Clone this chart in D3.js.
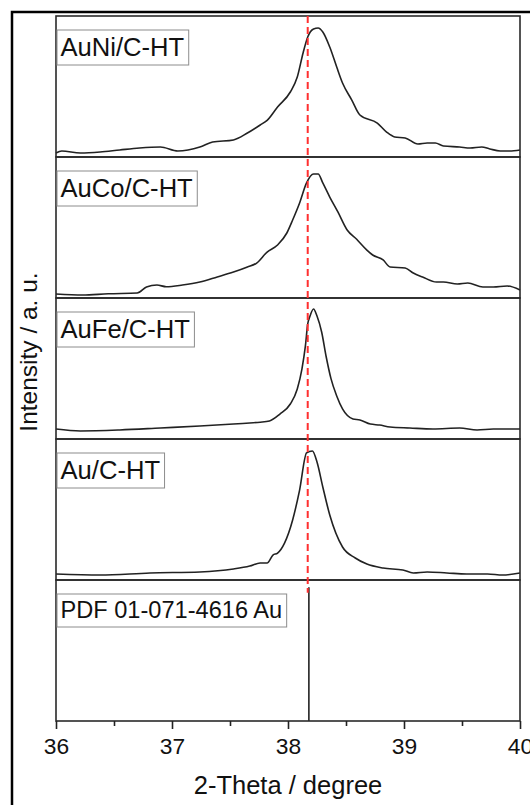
<!DOCTYPE html>
<html>
<head>
<meta charset="utf-8">
<script src="https://cdn.jsdelivr.net/npm/d3@7/dist/d3.min.js"></script>
<style>
  html, body { margin: 0; padding: 0; background: #fff; }
  svg { display: block; }
  text { font-family: "Liberation Sans", Arial, sans-serif; fill: #111; }
</style>
</head>
<body>
<svg id="chart" width="530" height="805"></svg>
<script>
// XRD patterns around the Au(111) reflection, normalized intensity (a.u.)
const auNi = [
  [36.00, 2.8], [36.05, 4.3], [36.21, 2.8], [36.38, 3.5], [36.55, 5.0], [36.72, 6.4],
  [36.90, 7.1], [37.05, 4.3], [37.24, 7.1], [37.35, 10.6], [37.53, 12.1], [37.65, 17.0],
  [37.76, 22.7], [37.82, 26.0], [37.91, 35.5], [38.02, 46.1], [38.08, 56.7], [38.13, 73.8],
  [38.17, 85.1], [38.22, 90.8], [38.26, 91.5], [38.30, 88.7], [38.36, 78.0], [38.42, 63.8],
  [38.47, 52.5], [38.55, 40.4], [38.62, 29.8], [38.77, 24.1], [38.85, 17.7], [38.92, 14.2],
  [39.01, 13.5], [39.12, 9.2], [39.20, 9.9], [39.27, 9.9], [39.34, 7.8], [39.48, 7.1],
  [39.57, 6.4], [39.67, 7.1], [39.74, 5.7], [39.83, 4.3], [39.91, 4.3], [40.00, 5.0]
];
const auCo = [
  [36.00, 2.8], [36.23, 2.1], [36.45, 3.0], [36.70, 3.5], [36.78, 7.8], [36.87, 9.2],
  [36.95, 8.0], [37.09, 9.2], [37.24, 11.3], [37.39, 14.9], [37.53, 18.4], [37.65, 22.0],
  [37.73, 24.8], [37.82, 32.6], [37.91, 37.6], [37.99, 46.1], [38.04, 55.3], [38.10, 67.4],
  [38.16, 81.6], [38.22, 87.9], [38.26, 87.9], [38.30, 81.6], [38.36, 71.6], [38.43, 61.0],
  [38.51, 48.2], [38.59, 41.8], [38.68, 34.0], [38.73, 30.5], [38.82, 27.0], [38.88, 22.0],
  [39.01, 21.3], [39.08, 17.7], [39.16, 14.9], [39.28, 11.3], [39.34, 11.3], [39.46, 9.9],
  [39.55, 10.6], [39.68, 7.8], [39.77, 7.8], [39.89, 8.5], [40.00, 5.7]
];
const auFe = [
  [36.00, 7.1], [36.21, 5.7], [36.55, 6.4], [36.90, 7.8], [37.24, 9.2], [37.53, 10.6],
  [37.67, 11.4], [37.76, 11.9], [37.84, 12.8], [37.93, 17.7], [38.02, 24.8], [38.08, 35.5],
  [38.12, 49.6], [38.15, 66.0], [38.17, 81.6], [38.19, 87.2], [38.22, 92.2], [38.25, 87.2],
  [38.29, 75.9], [38.33, 58.0], [38.37, 43.0], [38.42, 30.5], [38.47, 21.3], [38.56, 14.2],
  [38.62, 13.5], [38.71, 10.6], [38.79, 9.9], [38.88, 8.5], [39.05, 7.8], [39.25, 7.1],
  [39.48, 7.8], [39.63, 6.4], [39.77, 7.1], [40.00, 7.1]
];
const auC = [
  [36.00, 4.3], [36.38, 3.5], [36.81, 5.0], [37.24, 5.7], [37.53, 7.8], [37.67, 9.9],
  [37.76, 12.1], [37.82, 12.1], [37.87, 17.7], [37.91, 19.1], [37.97, 26.2], [38.04, 42.6],
  [38.10, 63.8], [38.16, 90.1], [38.21, 91.5], [38.25, 83.7], [38.30, 66.0], [38.36, 46.1],
  [38.47, 23.4], [38.58, 15.6], [38.68, 11.3], [38.82, 8.5], [38.99, 7.1], [39.08, 5.0],
  [39.20, 5.7], [39.37, 5.0], [39.54, 4.3], [39.72, 4.3], [39.85, 3.5], [40.00, 5.0]
];
// reference pattern PDF 01-071-4616 (Au), relative intensity
const pdfAu = [[38.18, 100]];
const refLine = 38.17;

const sampleNames = ["AuNi/C-HT", "AuCo/C-HT", "AuFe/C-HT", "Au/C-HT", "PDF 01-071-4616 Au"];
const xTicks = [36, 37, 38, 39, 40];
const xTitle = "2-Theta / degree";
const yTitle = "Intensity / a. u.";

const panels = [
  { name: sampleNames[0], data: auNi, type: "line", max: 100 },
  { name: sampleNames[1], data: auCo, type: "line", max: 100 },
  { name: sampleNames[2], data: auFe, type: "line", max: 100 },
  { name: sampleNames[3], data: auC,  type: "line", max: 100 },
  { name: sampleNames[4], data: pdfAu, type: "stick", max: 105.5 }
];

const svg = d3.select("#chart");
const plot = { left: 56, right: 520, top: 16, bottom: 721 };

// outer frame
svg.append("rect")
  .attr("x", 12).attr("y", 12).attr("width", 540).attr("height", 820)
  .attr("fill", "none").attr("stroke", "#000").attr("stroke-width", 2.5);

const x = d3.scaleLinear().domain([36, 40]).range([plot.left, plot.right]);
const band = d3.scaleBand().domain(d3.range(panels.length)).range([plot.top, plot.bottom]).padding(0);

const line = d3.line().x(d => x(d[0])).y(d => d.y).curve(d3.curveMonotoneX);

let yPdf = null;
panels.forEach((p, i) => {
  const top = band(i), h = band.bandwidth();
  const y = d3.scaleLinear().domain([0, p.max]).range([top + h, top]);
  const g = svg.append("g");
  if (p.type === "line") {
    g.append("path")
      .attr("d", line(p.data.map(d => Object.assign([d[0], d[1]], { y: y(d[1]) }))))
      .attr("fill", "none").attr("stroke", "#222").attr("stroke-width", 1.6)
      .attr("stroke-linejoin", "round");
  } else {
    yPdf = y;
    g.selectAll("line.stick").data(p.data).join("line")
      .attr("class", "stick")
      .attr("x1", d => x(d[0])).attr("x2", d => x(d[0]))
      .attr("y1", y(0)).attr("y2", d => y(d[1]))
      .attr("stroke", "#222").attr("stroke-width", 1.6);
  }
  // panel frame
  g.append("rect")
    .attr("x", plot.left).attr("y", top).attr("width", plot.right - plot.left).attr("height", h)
    .attr("fill", "none").attr("stroke", "#2a2a2a").attr("stroke-width", 1.6);
});

// reference position of Au(111)
svg.append("line")
  .attr("x1", x(refLine)).attr("x2", x(refLine))
  .attr("y1", plot.top).attr("y2", yPdf(96))
  .attr("stroke", "#ff3030").attr("stroke-width", 2)
  .attr("stroke-dasharray", "7,4");

// sample labels in boxes
panels.forEach((p, i) => {
  const top = band(i);
  const isRef = p.type === "stick";
  const fs = isRef ? 23.6 : 25.6;
  const bh = isRef ? 33 : 35;
  const lg = svg.append("g").attr("transform", `translate(${plot.left + 1},${top + 14})`);
  const rect = lg.append("rect").attr("fill", "#fff").attr("stroke", "#8c8c8c").attr("stroke-width", 1);
  const t = lg.append("text").attr("x", 3.5).attr("y", isRef ? 24 : 25.5).attr("font-size", fs).text(p.name);
  const w = t.node().getComputedTextLength();
  rect.attr("x", 0).attr("y", 0).attr("width", w + 8).attr("height", bh);
});

// x axis
const xAxis = d3.axisBottom(x).tickValues(d3.range(36, 40.01, 0.5))
  .tickSize(8).tickPadding(6)
  .tickFormat(d => xTicks.includes(d) ? d : "");
const ax = svg.append("g").attr("transform", `translate(0,${plot.bottom})`).call(xAxis);
ax.select(".domain").remove();
ax.selectAll(".tick line").attr("stroke", "#222").attr("stroke-width", 1.6)
  .attr("y2", d => Number.isInteger(d) ? 8 : 5);
ax.selectAll(".tick text").attr("font-size", 22.8).attr("fill", "#111")
  .attr("font-family", "'Liberation Sans', Arial, sans-serif").attr("dy", "0.85em");

svg.append("text")
  .attr("x", (plot.left + plot.right) / 2).attr("y", 794)
  .attr("text-anchor", "middle").attr("font-size", 25.5).text(xTitle);

svg.append("text")
  .attr("transform", `translate(37,352) rotate(-90)`)
  .attr("text-anchor", "middle").attr("font-size", 24.5).text(yTitle);
</script>
</body>
</html>
